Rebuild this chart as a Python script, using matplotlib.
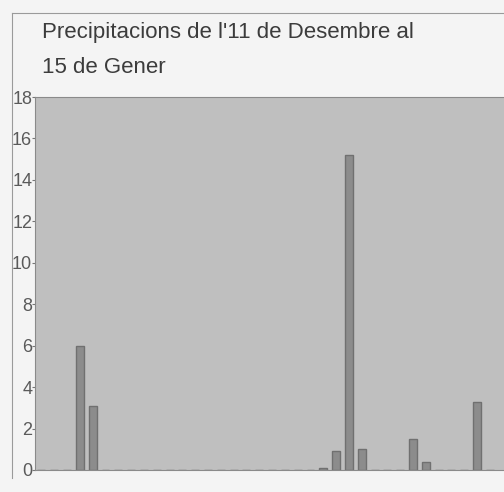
import matplotlib.pyplot as plt
from matplotlib.lines import Line2D

plt.rcParams['font.family'] = ['Liberation Sans', 'DejaVu Sans']

# dies de l'11 de desembre al 15 de gener
days = ['11/12', '12/12', '13/12', '14/12', '15/12', '16/12', '17/12', '18/12',
        '19/12', '20/12', '21/12', '22/12', '23/12', '24/12', '25/12', '26/12',
        '27/12', '28/12', '29/12', '30/12', '31/12', '01/01', '02/01', '03/01',
        '04/01', '05/01', '06/01', '07/01', '08/01', '09/01', '10/01', '11/01',
        '12/01', '13/01', '14/01', '15/01']
rain = [0, 0, 0, 6.0, 3.1, 0, 0, 0,
        0, 0, 0, 0, 0, 0, 0, 0,
        0, 0, 0, 0, 0, 0, 0.1, 0.9,
        15.2, 1.0, 0, 0, 0, 1.5, 0.4, 0,
        0, 0, 3.3, 0]
yticks = [0, 2, 4, 6, 8, 10, 12, 14, 16, 18]

fig = plt.figure(figsize=(5.04, 4.92), dpi=100, facecolor='#f4f4f4')
ax = fig.add_axes([35 / 504, 22 / 492, 1 - 35 / 504, 373 / 492])
ax.set_facecolor('#bfbfbf')

x = list(range(len(days)))
ax.bar(x, rain, width=0.62, color='#8c8c8c', edgecolor='#707070', linewidth=1.0)

ax.set_xlim(-0.5, 36.1)
ax.set_ylim(0, 18)
ax.set_yticks(yticks)
ax.set_yticklabels([str(t) for t in yticks], fontsize=13, color='#5a5a5a',
                   family=['Liberation Sans Narrow', 'Liberation Sans'])
ax.tick_params(axis='y', length=2, width=0.8, color='#777777', pad=0)
ax.set_xticks([])
for side in ['left', 'top', 'bottom']:
    ax.spines[side].set_color('#8a8a8a')
    ax.spines[side].set_linewidth(0.8)
ax.spines['top'].set_linestyle((0, (2, 1)))
ax.spines['bottom'].set_linestyle((0, (2, 1)))
ax.spines['right'].set_visible(False)

# marc del quadre
fig.add_artist(Line2D([12 / 504, 12 / 504], [1 - 13 / 492, 1 - 478 / 492],
                      transform=fig.transFigure, color='#9a9a9a', lw=0.8))
fig.add_artist(Line2D([12 / 504, 1], [1 - 13 / 492, 1 - 13 / 492],
                      transform=fig.transFigure, color='#9a9a9a', lw=0.8))

fig.text(42 / 504, 1 - 38 / 492, "Precipitacions de l'11 de Desembre al",
         fontsize=16, color='#3c3c3c', ha='left', va='baseline')
fig.text(42 / 504, 1 - 73 / 492, "15 de Gener",
         fontsize=16, color='#3c3c3c', ha='left', va='baseline')

fig.savefig('out.png', dpi=100, facecolor=fig.get_facecolor())
